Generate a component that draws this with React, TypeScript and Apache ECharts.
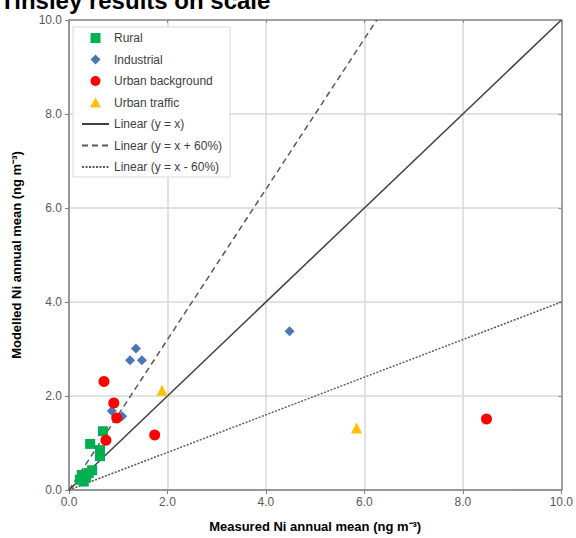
import React, { useEffect, useRef } from "react";
import * as echarts from "echarts";

const titleText = "Tinsley results on scale";
const xAxisName = "Measured Ni annual mean (ng m\u207B\u00B3)";
const yAxisName = "Modelled Ni annual mean (ng m\u207B\u00B3)";

const seriesNames = [
  "Rural",
  "Industrial",
  "Urban background",
  "Urban traffic",
  "Linear (y = x)",
  "Linear (y = x + 60%)",
  "Linear (y = x - 60%)",
];

const rural = [
  [0.69, 1.25], [0.43, 0.98], [0.63, 0.85], [0.63, 0.72], [0.47, 0.42],
  [0.4, 0.36], [0.26, 0.32], [0.35, 0.28], [0.3, 0.18], [0.22, 0.22],
];
const industrial = [
  [1.36, 3.01], [1.24, 2.76], [1.48, 2.76], [0.87, 1.68], [1.08, 1.57], [4.48, 3.38],
];
const urbanBackground = [
  [0.71, 2.31], [0.91, 1.85], [0.97, 1.53], [0.75, 1.06], [1.74, 1.17], [8.48, 1.51],
];
const urbanTraffic = [
  [1.89, 2.12], [5.84, 1.32],
];
const lineOneToOne = [[0, 0], [10, 10]];
const linePlus60 = [[0, 0], [6.25, 10]];
const lineMinus60 = [[0, 0], [10, 4]];

const legendIcons: Record<string, string> = {
  Rural: "path://M1,1H9V9H1Z",
  Industrial: "path://M5,0.5L9.5,5L5,9.5L0.5,5Z",
  "Urban background": "path://M0,5A5,5,0,1,1,10,5A5,5,0,1,1,0,5Z",
  "Urban traffic": "path://M5,0.5L10,9.5H0Z",
};

export default function App() {
  const ref = useRef<HTMLDivElement>(null);
  useEffect(() => {
    if (!ref.current) return;
    const chart = echarts.init(ref.current, null, { renderer: "svg" });
    const font = "Liberation Sans, Arial, sans-serif";
    const axisCommon = {
      type: "value",
      min: 0,
      max: 10,
      interval: 2,
    };
    const legendData = seriesNames.map((n) =>
      legendIcons[n]
        ? { name: n, icon: legendIcons[n] }
        : { name: n, itemStyle: { opacity: 0 } }
    );
    chart.setOption({
      animation: false,
      textStyle: { fontFamily: font },
      title: {
        text: titleText,
        left: 0,
        top: -12,
        padding: 0,
        textStyle: { fontSize: 24, fontWeight: "bold", color: "#000", fontFamily: font },
      },
      legend: {
        orient: "vertical",
        left: 73,
        top: 27,
        padding: [4, 8, 3, 8],
        itemWidth: 27,
        itemHeight: 10,
        itemGap: 7.5,
        symbolKeepAspect: true,
        backgroundColor: "#fff",
        borderColor: "#d9d9d9",
        borderWidth: 1,
        textStyle: { fontSize: 12, color: "#404040", lineHeight: 14, fontFamily: font },
        data: legendData,
      },
      grid: { left: 69, right: 14, top: 20, bottom: 47 },
      xAxis: [
        {
          ...axisCommon,
          position: "bottom",
          name: xAxisName,
          nameLocation: "middle",
          nameGap: 30,
          nameTextStyle: { fontSize: 13, fontWeight: "bold", color: "#000" },
          axisLine: { show: true, lineStyle: { color: "#7f7f7f", width: 1.5 } },
          axisTick: { show: true, length: 4, lineStyle: { color: "#7f7f7f" } },
          axisLabel: { color: "#595959", fontSize: 12, margin: 6, formatter: (v: number) => v.toFixed(1) },
          splitLine: { show: true, lineStyle: { color: "#d9d9d9", width: 1.5 } },
        },
        {
          ...axisCommon,
          position: "top",
          axisLine: { show: true, onZero: false, lineStyle: { color: "#8c8c8c", width: 1.5 } },
          axisTick: { show: true, inside: true, length: 3, lineStyle: { color: "#8c8c8c" } },
          axisLabel: { show: false },
          splitLine: { show: false },
        },
      ],
      yAxis: [
        {
          ...axisCommon,
          position: "left",
          name: yAxisName,
          nameLocation: "middle",
          nameGap: 46,
          nameTextStyle: { fontSize: 13, fontWeight: "bold", color: "#000" },
          axisLine: { show: true, lineStyle: { color: "#7f7f7f", width: 1.5 } },
          axisTick: { show: true, length: 4, lineStyle: { color: "#7f7f7f" } },
          axisLabel: { color: "#595959", fontSize: 12, margin: 7, formatter: (v: number) => v.toFixed(1) },
          splitLine: { show: true, lineStyle: { color: "#d9d9d9", width: 1.5 } },
        },
        {
          ...axisCommon,
          position: "right",
          axisLine: { show: true, onZero: false, lineStyle: { color: "#8c8c8c", width: 1.5 } },
          axisTick: { show: true, inside: true, length: 3, lineStyle: { color: "#8c8c8c" } },
          axisLabel: { show: false },
          splitLine: { show: false },
        },
      ],
      series: [
        {
          name: seriesNames[4],
          type: "line",
          data: lineOneToOne,
          symbol: "none",
          z: 1,
          lineStyle: { color: "#404040", width: 1.5, type: "solid" },
          itemStyle: { color: "#404040" },
        },
        {
          name: seriesNames[5],
          type: "line",
          data: linePlus60,
          symbol: "none",
          z: 1,
          lineStyle: { color: "#595959", width: 1.5, type: [6, 4] },
          itemStyle: { color: "#595959" },
        },
        {
          name: seriesNames[6],
          type: "line",
          data: lineMinus60,
          symbol: "none",
          z: 1,
          lineStyle: { color: "#595959", width: 1.5, type: [2, 1.5] },
          itemStyle: { color: "#595959" },
        },
        {
          name: seriesNames[0],
          type: "scatter",
          data: rural,
          symbol: "rect",
          symbolSize: 10,
          z: 3,
          itemStyle: { color: "#00b050", opacity: 1 },
        },
        {
          name: seriesNames[1],
          type: "scatter",
          data: industrial,
          symbol: "diamond",
          symbolSize: 10,
          z: 3,
          itemStyle: { color: "#4a76b4", opacity: 1 },
        },
        {
          name: seriesNames[2],
          type: "scatter",
          data: urbanBackground,
          symbol: "circle",
          symbolSize: 11,
          z: 3,
          itemStyle: { color: "#ff0000", opacity: 1 },
        },
        {
          name: seriesNames[3],
          type: "scatter",
          data: urbanTraffic,
          symbol: "triangle",
          symbolSize: 11,
          z: 3,
          itemStyle: { color: "#ffc000", opacity: 1 },
        },
      ],
    });
    return () => chart.dispose();
  }, []);
  return (
    <div
      ref={ref}
      style={{ position: "fixed", left: 0, top: 0, width: 576, height: 538, background: "#fff" }}
    />
  );
}
